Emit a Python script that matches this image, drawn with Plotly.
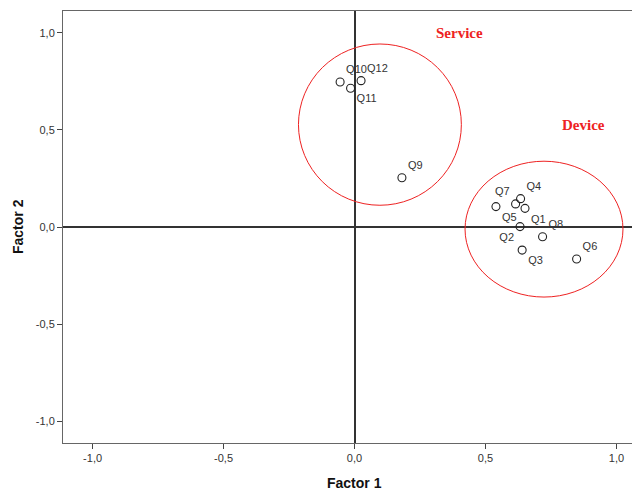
import plotly.graph_objects as go

# Factor loadings
items = ["Q1", "Q2", "Q3", "Q4", "Q5", "Q6", "Q7", "Q8", "Q9", "Q10", "Q11", "Q12"]
factor1 = [0.651, 0.632, 0.640, 0.634, 0.540, 0.848, 0.615, 0.718, 0.181, -0.055, -0.015, 0.025]
factor2 = [0.096, 0.002, -0.119, 0.146, 0.105, -0.165, 0.119, -0.050, 0.254, 0.747, 0.715, 0.754]
label_pos = ["bottom right", "bottom left", "bottom right", "top right", "bottom right",
             "top right", "top left", "top right", "top right", "top right",
             "bottom right", "top right"]

tick_vals = [-1.0, -0.5, 0.0, 0.5, 1.0]
tick_labels = ["-1,0", "-0,5", "0,0", "0,5", "1,0"]

# Cluster outlines (data units) and their names
clusters = {
    "Service": dict(x0=-0.214, x1=0.408, y0=0.112, y1=0.943, lx=0.400, ly=0.999),
    "Device": dict(x0=0.422, x1=1.025, y0=-0.361, y1=0.339, lx=0.873, ly=0.526),
}

fig = go.Figure()
fig.add_trace(go.Scatter(
    x=factor1, y=factor2, mode="markers+text",
    text=items, textposition=label_pos,
    textfont=dict(family="Liberation Sans, Arial, sans-serif", size=11, color="#333333"),
    marker=dict(symbol="circle-open", size=8, color="#222222", line=dict(width=1.1, color="#222222")),
    cliponaxis=False, hoverinfo="skip", showlegend=False,
))

shapes = []
annotations = []
for name, c in clusters.items():
    shapes.append(dict(type="circle", xref="x", yref="y",
                       x0=c["x0"], x1=c["x1"], y0=c["y0"], y1=c["y1"],
                       line=dict(color="#ee2222", width=1)))
    annotations.append(dict(x=c["lx"], y=c["ly"], xref="x", yref="y", text=name,
                            showarrow=False,
                            font=dict(family="Liberation Serif, Times New Roman, serif",
                                      size=15, color="#ee2222", weight="bold")))

annotations.append(dict(x=(355 - 63) / 577, y=0, xref="paper", yref="paper",
                        text="Factor 1", showarrow=False, yanchor="middle", yshift=-40,
                        font=dict(family="Liberation Sans, Arial, sans-serif", size=14,
                                  color="#111111", weight="bold")))
annotations.append(dict(x=(18 - 63) / 577, y=0.5, xref="paper", yref="paper",
                        text="Factor 2", showarrow=False, textangle=-90,
                        xanchor="center", yanchor="middle",
                        font=dict(family="Liberation Sans, Arial, sans-serif", size=14,
                                  color="#111111", weight="bold")))

axis_common = dict(
    tickvals=tick_vals, ticktext=tick_labels, ticks="outside", ticklen=5, tickwidth=1,
    tickcolor="#444444", showgrid=False, zeroline=True, zerolinecolor="#333333",
    zerolinewidth=1.6, showline=True, linecolor="#666666", linewidth=1,
    tickfont=dict(family="Liberation Sans, Arial, sans-serif", size=11, color="#333333"),
)

# The page puts the figure 8px in from the top-left corner, so the figure is
# sized to end exactly at the window's edges.
fig.update_layout(
    width=632, height=482,
    margin=dict(l=55, r=0, t=3, b=47),
    paper_bgcolor="white", plot_bgcolor="white",
    xaxis=dict(range=[-1.113, 1.090], mirror=True, **axis_common),
    yaxis=dict(range=[-1.113, 1.113], **axis_common),
    shapes=shapes, annotations=annotations,
)

fig.write_html("out.html")
